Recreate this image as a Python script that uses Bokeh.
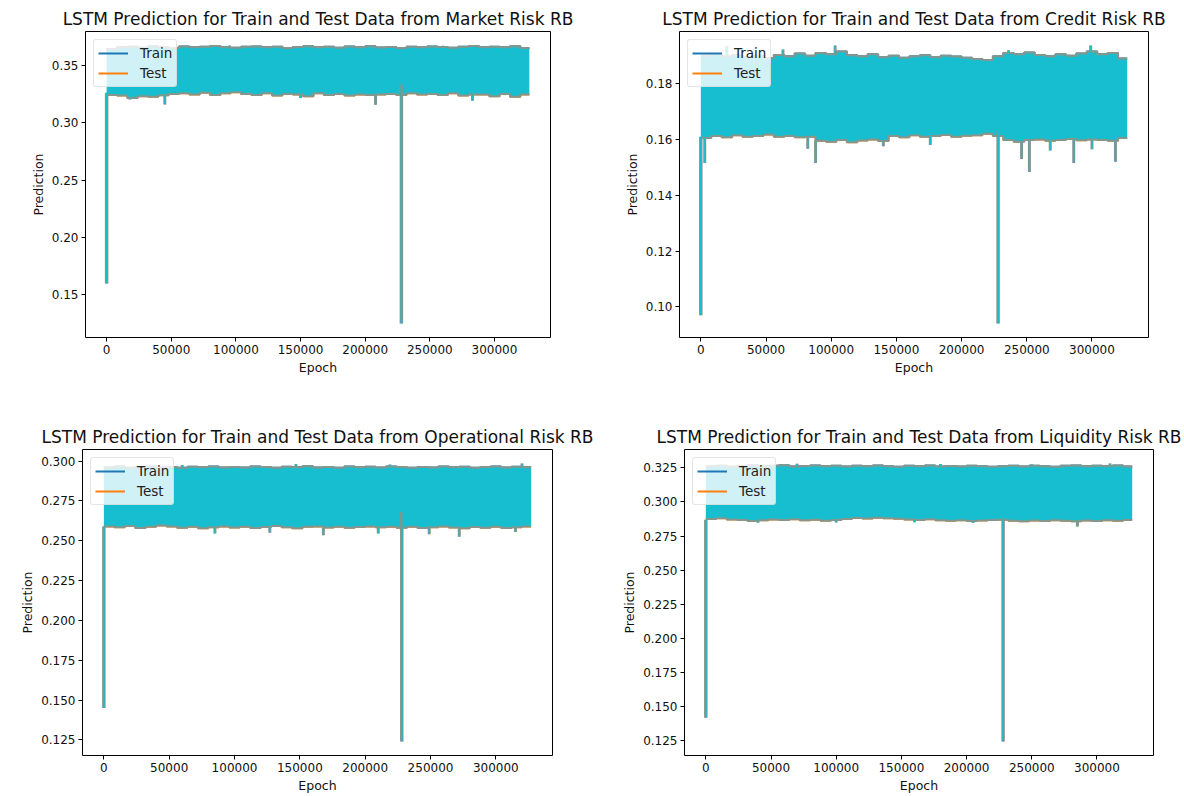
from bokeh.plotting import figure
from bokeh.layouts import column, row
from bokeh.models import Range1d, FixedTicker, PrintfTickFormatter, Legend, LegendItem
from bokeh.embed import file_html
from bokeh.resources import INLINE

FONT = "DejaVu Sans"
CYAN = "#17becf"
EDGE = "#86968c"
TRAIN_C = "#1f77b4"
TEST_C = "#ff7f0e"

# ---------------- data ----------------
epochs = [0, 8000, 16000, 24000, 32000, 40000, 48000, 56000, 64000, 72000,
          80000, 88000, 96000, 104000, 112000, 120000, 128000, 136000, 144000, 152000,
          160000, 168000, 176000, 184000, 192000, 200000, 208000, 216000, 224000, 232000,
          240000, 248000, 256000, 264000, 272000, 280000, 288000, 296000, 304000, 312000,
          320000]
end_epoch = 327000
x_ticks = [0, 50000, 100000, 150000, 200000, 250000, 300000]

# Market Risk RB
market_upper = [0.3640, 0.3655, 0.3660, 0.3652, 0.3664, 0.3658, 0.3650, 0.3662, 0.3655, 0.3660,
                0.3666, 0.3657, 0.3652, 0.3660, 0.3663, 0.3655, 0.3661, 0.3650, 0.3658, 0.3664,
                0.3656, 0.3660, 0.3652, 0.3662, 0.3657, 0.3665, 0.3654, 0.3659, 0.3650, 0.3661,
                0.3656, 0.3663, 0.3658, 0.3652, 0.3660, 0.3667, 0.3655, 0.3661, 0.3657, 0.3664,
                0.3650]
market_lower = [0.3240, 0.3235, 0.3215, 0.3230, 0.3225, 0.3238, 0.3250, 0.3255, 0.3245, 0.3260,
                0.3240, 0.3255, 0.3265, 0.3250, 0.3240, 0.3255, 0.3235, 0.3250, 0.3245, 0.3230,
                0.3255, 0.3240, 0.3250, 0.3235, 0.3245, 0.3240, 0.3245, 0.3250, 0.3240, 0.3255,
                0.3245, 0.3250, 0.3240, 0.3255, 0.3235, 0.3245, 0.3245, 0.3230, 0.3250, 0.3225,
                0.3245]
market_peak_x = [95000, 260000]
market_peak_y = [0.3672, 0.3670]
market_dip_x = [18000, 45000, 150000, 208000, 283000]
market_dip_y = [0.3200, 0.3158, 0.3215, 0.3155, 0.3190]
market_spike_x = [0, 228000]
market_spike_lo = [0.160, 0.125]
market_spike_top = [0.326, 0.333]
market_yticks = [0.15, 0.20, 0.25, 0.30, 0.35]

# Credit Risk RB
credit_upper = [0.1900, 0.1905, 0.1898, 0.1902, 0.1895, 0.1900, 0.1892, 0.1903, 0.1898, 0.1908,
                0.1900, 0.1910, 0.1905, 0.1915, 0.1902, 0.1898, 0.1905, 0.1895, 0.1900, 0.1893,
                0.1898, 0.1902, 0.1895, 0.1900, 0.1897, 0.1893, 0.1888, 0.1885, 0.1898, 0.1910,
                0.1905, 0.1912, 0.1903, 0.1898, 0.1905, 0.1900, 0.1908, 0.1915, 0.1905, 0.1910,
                0.1890]
credit_lower = [0.1605, 0.1612, 0.1608, 0.1615, 0.1610, 0.1612, 0.1618, 0.1610, 0.1612, 0.1608,
                0.1610, 0.1595, 0.1592, 0.1598, 0.1590, 0.1596, 0.1600, 0.1594, 0.1612, 0.1608,
                0.1615, 0.1610, 0.1612, 0.1616, 0.1610, 0.1613, 0.1615, 0.1620, 0.1612, 0.1598,
                0.1592, 0.1598, 0.1600, 0.1595, 0.1598, 0.1602, 0.1597, 0.1600, 0.1598, 0.1595,
                0.1605]
credit_peak_x = [20000, 63000, 103000, 236000, 299000]
credit_peak_y = [0.1935, 0.1922, 0.1937, 0.1920, 0.1937]
credit_dip_x = [3000, 82000, 88000, 140000, 176000, 246000, 252000, 268000, 286000, 300000, 318000]
credit_dip_y = [0.1516, 0.1567, 0.1516, 0.1576, 0.1580, 0.1530, 0.1483, 0.1560, 0.1516, 0.1565, 0.1520]
credit_spike_x = [0, 228000]
credit_spike_lo = [0.097, 0.094]
credit_spike_top = [0.161, 0.163]
credit_yticks = [0.10, 0.12, 0.14, 0.16, 0.18]

# Operational Risk RB
oper_upper = [0.2960, 0.2965, 0.2958, 0.2962, 0.2966, 0.2960, 0.2963, 0.2957, 0.2964, 0.2961,
              0.2966, 0.2959, 0.2963, 0.2960, 0.2965, 0.2962, 0.2958, 0.2964, 0.2961, 0.2967,
              0.2960, 0.2963, 0.2958, 0.2965, 0.2961, 0.2964, 0.2959, 0.2966, 0.2962, 0.2958,
              0.2963, 0.2960, 0.2965, 0.2961, 0.2964, 0.2958, 0.2962, 0.2966, 0.2960, 0.2964,
              0.2961]
oper_lower = [0.2590, 0.2585, 0.2592, 0.2580, 0.2588, 0.2595, 0.2590, 0.2582, 0.2587, 0.2578,
              0.2585, 0.2590, 0.2583, 0.2588, 0.2580, 0.2586, 0.2592, 0.2584, 0.2579, 0.2587,
              0.2590, 0.2583, 0.2588, 0.2581, 0.2586, 0.2590, 0.2584, 0.2588, 0.2582, 0.2587,
              0.2580, 0.2585, 0.2589, 0.2583, 0.2578, 0.2586, 0.2582, 0.2588, 0.2580, 0.2585,
              0.2590]
oper_peak_x = [60000, 147000, 219000, 320000]
oper_peak_y = [0.2975, 0.2982, 0.2978, 0.2985]
oper_dip_x = [85000, 127000, 168000, 210000, 249000, 272000, 315000]
oper_dip_y = [0.2545, 0.2550, 0.2535, 0.2545, 0.2540, 0.2525, 0.2555]
oper_spike_x = [0, 228000]
oper_spike_lo = [0.145, 0.124]
oper_spike_top = [0.259, 0.268]
oper_yticks = [0.125, 0.150, 0.175, 0.200, 0.225, 0.250, 0.275, 0.300]

# Liquidity Risk RB
liq_upper = [0.3260, 0.3265, 0.3258, 0.3262, 0.3266, 0.3261, 0.3264, 0.3268, 0.3260, 0.3263,
             0.3267, 0.3262, 0.3265, 0.3259, 0.3264, 0.3261, 0.3266, 0.3262, 0.3258, 0.3264,
             0.3261, 0.3266, 0.3260, 0.3263, 0.3259, 0.3265, 0.3262, 0.3257, 0.3261, 0.3264,
             0.3260, 0.3265, 0.3262, 0.3258, 0.3264, 0.3267, 0.3261, 0.3265, 0.3262, 0.3266,
             0.3260]
liq_lower = [0.2875, 0.2880, 0.2872, 0.2868, 0.2860, 0.2865, 0.2872, 0.2868, 0.2874, 0.2866,
             0.2870, 0.2862, 0.2868, 0.2875, 0.2882, 0.2878, 0.2885, 0.2880, 0.2876, 0.2872,
             0.2868, 0.2874, 0.2865, 0.2862, 0.2866, 0.2860, 0.2864, 0.2868, 0.2870, 0.2862,
             0.2858, 0.2864, 0.2860, 0.2866, 0.2862, 0.2858, 0.2864, 0.2860, 0.2866, 0.2862,
             0.2868]
liq_peak_x = [70000, 180000, 250000, 310000]
liq_peak_y = [0.3280, 0.3278, 0.3276, 0.3282]
liq_dip_x = [40000, 100000, 160000, 205000, 285000]
liq_dip_y = [0.2848, 0.2850, 0.2852, 0.2845, 0.2820]
liq_spike_x = [0, 228000]
liq_spike_lo = [0.142, 0.1245]
liq_spike_top = [0.287, 0.288]
liq_yticks = [0.125, 0.150, 0.175, 0.200, 0.225, 0.250, 0.275, 0.300, 0.325]


def envelope_at(values, x):
    idx = min(int(x // 8000), len(values) - 1)
    return values[idx]


def make_panel(title, upper, lower, peak_x, peak_y, dip_x, dip_y,
               spike_x, spike_lo, spike_top, yticks, yfmt,
               width, height, bl, br, bt, bb):
    xs = epochs + [end_epoch]
    up = upper + [upper[-1]]
    lo = lower + [lower[-1]]
    ymin = min(min(lo), min(spike_lo), min(dip_y))
    ymax = max(max(up), max(peak_y))
    pad = 0.05 * (ymax - ymin)
    p = figure(width=width, height=height,
               x_range=Range1d(-0.05 * end_epoch, 1.05 * end_epoch),
               y_range=Range1d(ymin - pad, ymax + pad),
               output_backend="svg", toolbar_location=None,
               min_border_left=bl, min_border_right=br,
               min_border_top=bt, min_border_bottom=bb,
               background_fill_color="white", border_fill_color="white")
    p.outline_line_color = "black"
    p.outline_line_width = 1
    p.outline_line_alpha = 1
    p.grid.visible = False

    train = p.step(xs, up, mode="after", line_color=TRAIN_C, line_width=2)
    test = p.step(xs, lo, mode="after", line_color=TEST_C, line_width=2)
    p.varea_step(x=xs, y1=lo, y2=up, step_mode="after", fill_color=CYAN)
    p.step(xs, up, mode="after", line_color=EDGE, line_width=2)
    p.step(xs, lo, mode="after", line_color=EDGE, line_width=2)

    pk_base = [envelope_at(upper, x) for x in peak_x]
    dp_base = [envelope_at(lower, x) for x in dip_x]
    p.segment(x0=peak_x, y0=pk_base, x1=peak_x, y1=peak_y, line_color=EDGE, line_width=3)
    p.segment(x0=peak_x, y0=pk_base, x1=peak_x, y1=peak_y, line_color=CYAN, line_width=1.2)
    p.segment(x0=dip_x, y0=dp_base, x1=dip_x, y1=dip_y, line_color=EDGE, line_width=3)
    p.segment(x0=dip_x, y0=dp_base, x1=dip_x, y1=dip_y, line_color=CYAN, line_width=1.2)
    p.segment(x0=spike_x, y0=spike_top, x1=spike_x, y1=spike_lo, line_color=EDGE, line_width=3.5)
    p.segment(x0=spike_x, y0=spike_top, x1=spike_x, y1=spike_lo, line_color=CYAN, line_width=1.6)

    legend = Legend(items=[LegendItem(label="Train", renderers=[train]),
                           LegendItem(label="Test", renderers=[test])],
                    location="top_left")
    legend.label_text_font = FONT
    legend.label_text_font_size = "13.5px"
    legend.label_text_color = "#222222"
    legend.glyph_width = 30
    legend.glyph_height = 18
    legend.label_height = 18
    legend.label_standoff = 12
    legend.spacing = 2
    legend.padding = 4
    legend.margin = 8
    legend.border_line_color = "#cccccc"
    legend.border_line_width = 1
    legend.border_radius = 3
    legend.background_fill_color = "white"
    legend.background_fill_alpha = 0.8
    p.add_layout(legend)

    p.title.text = title
    p.title.align = "center"
    p.title.text_font = FONT
    p.title.text_font_size = "17px"
    p.title.text_font_style = "normal"
    p.title.text_color = "#111111"
    p.title.standoff = 5

    p.xaxis.ticker = FixedTicker(ticks=x_ticks)
    p.xaxis.formatter = PrintfTickFormatter(format="%d")
    p.yaxis.ticker = FixedTicker(ticks=yticks)
    p.yaxis.formatter = PrintfTickFormatter(format=yfmt)
    p.xaxis.axis_label = "Epoch"
    p.yaxis.axis_label = "Prediction"
    for ax in (p.xaxis, p.yaxis):
        ax.axis_line_color = None
        ax.minor_tick_line_color = None
        ax.major_tick_out = 4
        ax.major_tick_in = 0
        ax.major_tick_line_color = "black"
        ax.major_label_text_font = FONT
        ax.major_label_text_font_size = "12px"
        ax.major_label_text_color = "#111111"
        ax.axis_label_text_font = FONT
        ax.axis_label_text_font_size = "12.5px"
        ax.axis_label_text_font_style = "normal"
        ax.axis_label_text_color = "#111111"
        ax.major_label_standoff = 3
        ax.axis_label_standoff = 3
    return p


p1 = make_panel("LSTM Prediction for Train and Test Data from Market Risk RB",
                market_upper, market_lower, market_peak_x, market_peak_y,
                market_dip_x, market_dip_y, market_spike_x, market_spike_lo, market_spike_top,
                market_yticks, "%.2f", 600, 400, 85, 50, 31, 63)
p2 = make_panel("LSTM Prediction for Train and Test Data from Credit Risk RB",
                credit_upper, credit_lower, credit_peak_x, credit_peak_y,
                credit_dip_x, credit_dip_y, credit_spike_x, credit_spike_lo, credit_spike_top,
                credit_yticks, "%.2f", 583, 400, 79, 35, 29, 61)
p3 = make_panel("LSTM Prediction for Train and Test Data from Operational Risk RB",
                oper_upper, oper_lower, oper_peak_x, oper_peak_y,
                oper_dip_x, oper_dip_y, oper_spike_x, oper_spike_lo, oper_spike_top,
                oper_yticks, "%.3f", 600, 395, 82, 48, 46, 35)
p4 = make_panel("LSTM Prediction for Train and Test Data from Liquidity Risk RB",
                liq_upper, liq_lower, liq_peak_x, liq_peak_y,
                liq_dip_x, liq_dip_y, liq_spike_x, liq_spike_lo, liq_spike_top,
                liq_yticks, "%.3f", 583, 395, 84, 30, 49, 39)

layout = column(row(p1, p2), row(p3, p4))
open("out.html", "w").write(file_html(layout, INLINE))
